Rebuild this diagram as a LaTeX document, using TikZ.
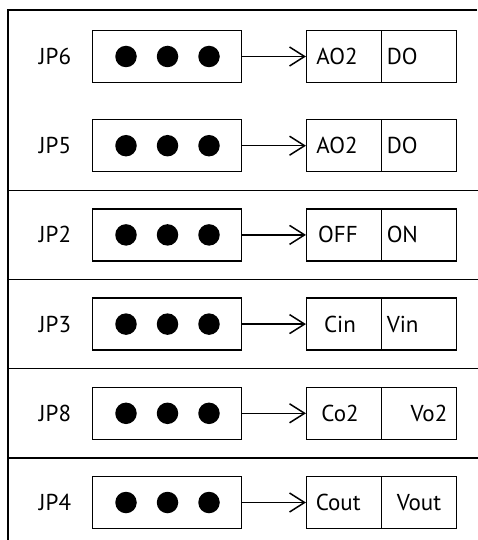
\documentclass[tikz,border=0pt]{standalone}
\usepackage{fontspec}
\setmainfont{PT Sans}
\usetikzlibrary{arrows.meta}
\begin{document}
\begin{tikzpicture}[x=1pt,y=-1pt,line width=1.5pt,
  jbox/.style={draw,rectangle,minimum width=149pt,minimum height=52pt,inner sep=0pt},
  cell/.style={draw,rectangle,minimum width=75pt,minimum height=52pt,inner sep=0pt},
  lbl/.style={font=\fontsize{23}{27}\selectfont,inner sep=0pt},
  pin/.style={fill=black,circle,minimum size=21.5pt,inner sep=0pt},
  conn/.style={-{Straight Barb[length=15pt,width=19pt,line width=1.5pt]}}]
\useasboundingbox (0,0) rectangle (477,540);
% frame
\draw (477,10) -- (8,10) -- (8,541);
\foreach \yy in {190.3,279.5,368.7,457.9} \draw (8,\yy) -- (478,\yy);
% rows
\foreach \i/\name/\a/\b/\ax/\bx/\aa/\ba in {
  0/JP6/AO2/DO/337/386/center/west,
  1/JP5/AO2/DO/337/386/center/west,
  2/JP2/OFF/ON/338/386/center/west,
  3/JP3/Cin/Vin/340/386/center/west,
  4/JP8/Co2/Vo2/340/429/center/center,
  5/JP4/Cout/Vout/315/419/west/center}{
  \pgfmathsetmacro{\cy}{56.5+89.2*\i}
  \node[lbl] (t\i) at (55,\cy) {\name};
  \node[jbox] (j\i) at (167.2,\cy) {};
  \node[pin] (p\i a) at (126,\cy) {};
  \node[pin] (p\i b) at (167.5,\cy) {};
  \node[pin] (p\i c) at (209,\cy) {};
  \node[cell] (l\i) at (344.2,\cy) {};
  \node[cell] (r\i) at (419.2,\cy) {};
  \node[lbl,anchor=\aa] (la\i) at (\ax,\cy) {\a};
  \node[lbl,anchor=\ba] (lb\i) at (\bx,\cy) {\b};
  \draw[conn] (j\i.east) -- (l\i.west);
}
\end{tikzpicture}
\end{document}
